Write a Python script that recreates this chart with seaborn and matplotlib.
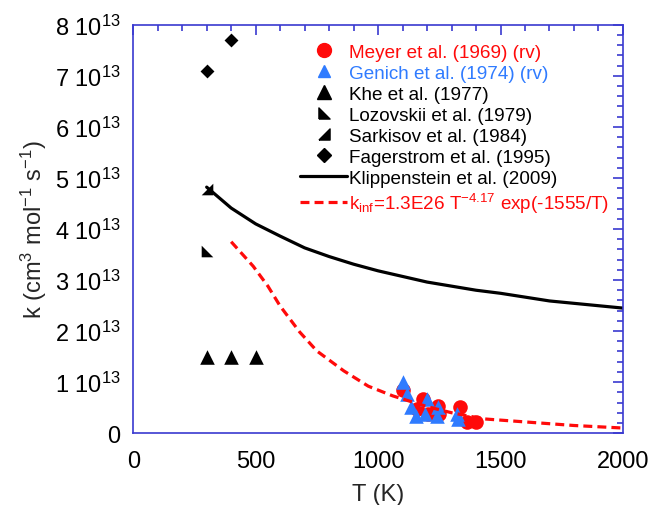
import numpy as np
import matplotlib
matplotlib.use("Agg")
import matplotlib.pyplot as plt
import seaborn as sns
from matplotlib.lines import Line2D
from matplotlib.ticker import MultipleLocator, FuncFormatter

sns.set_style("white")
plt.rcParams["font.family"] = ["Liberation Sans", "DejaVu Sans"]
plt.rcParams["mathtext.fontset"] = "custom"
plt.rcParams["mathtext.rm"] = "Liberation Sans"
plt.rcParams["mathtext.it"] = "Liberation Sans"

# data (k in units of 1e13 cm3 mol-1 s-1)
meyer_T = [1102, 1159, 1184, 1204, 1245, 1249, 1335, 1363, 1400]
meyer_k = [0.85, 0.47, 0.67, 0.37, 0.53, 0.37, 0.51, 0.22, 0.22]

genich_T = [1102, 1118, 1135, 1155, 1192, 1200, 1241, 1245, 1322, 1327]
genich_k = [1.00, 0.76, 0.51, 0.33, 0.37, 0.67, 0.33, 0.51, 0.37, 0.27]

khe_T = [300, 400, 500]
khe_k = [1.5, 1.5, 1.5]

lozovskii_T = [300]
lozovskii_k = [3.57]

sarkisov_T = [300]
sarkisov_k = [4.78]

fager_T = [300, 400]
fager_k = [7.1, 7.7]

klipp_T = [300, 400, 500, 600, 700, 800, 900, 1000, 1200, 1400, 1500, 1700, 2000]
klipp_k = [4.82, 4.41, 4.10, 3.86, 3.63, 3.46, 3.31, 3.18, 2.96, 2.80, 2.74, 2.59, 2.45]

kinf_T = [400, 490, 550, 600, 680, 750, 860, 960, 1060, 1200, 1300, 1430, 1600, 1800, 2000]
kinf_k = [3.75, 3.27, 2.88, 2.49, 1.98, 1.61, 1.22, 0.92, 0.73, 0.52, 0.40, 0.28, 0.22, 0.15, 0.10]

red = "#ff0a0a"
blue = "#2f7bff"
frame = "#3a3ad0"

lozo_marker = [(-1, -1), (1, -1), (-1, 1), (-1, -1)]
sark_marker = [(-1, -1), (1, -1), (1, 1), (-1, -1)]

fig = plt.figure(figsize=(6.53, 5.06), dpi=100)
ax = fig.add_axes([0.204, 0.142, 0.750, 0.807])

sns.lineplot(x=klipp_T, y=klipp_k, ax=ax, color="black", lw=2.3)
sns.lineplot(x=kinf_T, y=kinf_k, ax=ax, color=red, lw=2.3)
ax.lines[-1].set_dashes([2.8, 1.6])

sns.scatterplot(x=meyer_T, y=meyer_k, ax=ax, color=red, marker="o", s=110, edgecolor=red, linewidth=0)
sns.scatterplot(x=genich_T, y=genich_k, ax=ax, color=blue, marker="^", s=110, edgecolor=blue, linewidth=0)
sns.scatterplot(x=khe_T, y=khe_k, ax=ax, color="black", marker="^", s=110, linewidth=0)
sns.scatterplot(x=lozovskii_T, y=lozovskii_k, ax=ax, color="black", marker=lozo_marker, s=70, linewidth=0)
sns.scatterplot(x=sarkisov_T, y=sarkisov_k, ax=ax, color="black", marker=sark_marker, s=70, linewidth=0)
sns.scatterplot(x=fager_T, y=fager_k, ax=ax, color="black", marker="D", s=50, linewidth=0)

ax.set_xlim(0, 2000)
ax.set_ylim(0, 8)
ax.xaxis.set_major_locator(MultipleLocator(500))
ax.xaxis.set_minor_locator(MultipleLocator(100))
ax.yaxis.set_major_locator(MultipleLocator(1))
ax.yaxis.set_minor_locator(MultipleLocator(0.2))


def yfmt(v, pos):
    if v == 0:
        return "0"
    return r"$\mathregular{%d\ 10^{13}}$" % round(v)


ax.yaxis.set_major_formatter(FuncFormatter(yfmt))

for side in ax.spines.values():
    side.set_color(frame)
    side.set_linewidth(1.2)
ax.tick_params(which="both", direction="in", top=True, right=True, color=frame, width=1.2,
               labelsize=17, labelcolor="black")
ax.tick_params(which="major", length=7)
ax.tick_params(which="minor", length=4.5)
ax.tick_params(axis="y", pad=9)
ax.tick_params(axis="x", pad=12)

ax.set_xlabel("T (K)", fontsize=17, labelpad=8)
ax.set_ylabel(r"k (cm$^{\mathregular{3}}$ mol$^{\mathregular{-1}}$ s$^{\mathregular{-1}}$)", fontsize=17, labelpad=4)

handles = [
    Line2D([], [], ls="none", marker="o", color=red, ms=10),
    Line2D([], [], ls="none", marker="^", color=blue, ms=8),
    Line2D([], [], ls="none", marker="^", color="black", ms=10),
    Line2D([], [], ls="none", marker=lozo_marker, color="black", ms=8),
    Line2D([], [], ls="none", marker=sark_marker, color="black", ms=8),
    Line2D([], [], ls="none", marker="D", color="black", ms=7),
    Line2D([], [], color="black", lw=2.3),
    Line2D([], [], color=red, lw=2.3, dashes=[2.8, 1.6]),
]
labels = [
    "Meyer et al. (1969) (rv)",
    "Genich et al. (1974) (rv)",
    "Khe et al. (1977)",
    "Lozovskii et al. (1979)",
    "Sarkisov et al. (1984)",
    "Fagerstrom et al. (1995)",
    "Klippenstein et al. (2009)",
    r"k$_{\mathregular{inf}}$=1.3E26 T$^{\mathregular{-4.17}}$ exp(-1555/T)",
]
leg = ax.legend(handles, labels, loc="upper left", bbox_to_anchor=(0.325, 0.972), frameon=False,
                fontsize=13.6, handlelength=2.5, handletextpad=0.1, labelspacing=0.2, borderaxespad=0)
for txt, c in zip(leg.get_texts(), [red, blue, "black", "black", "black", "black", "black", red]):
    txt.set_color(c)

fig.savefig("out.png", dpi=100)
